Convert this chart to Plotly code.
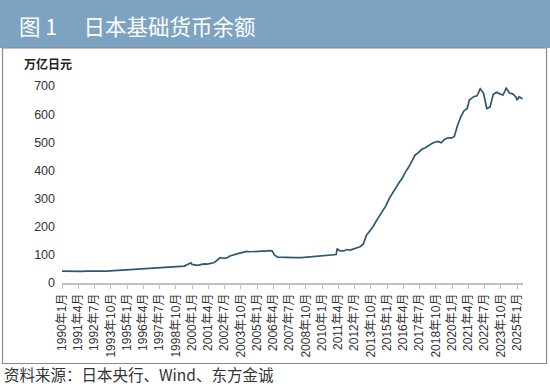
import plotly.graph_objects as go

# ---- data (万亿日元) ----
dates = [
    "1990-01", "1990-06", "1991-01", "1991-06", "1992-01", "1992-06", "1993-01", "1993-06",
    "1994-01", "1994-06", "1995-01", "1995-06", "1996-01", "1996-06", "1997-01", "1997-06",
    "1998-01", "1998-06", "1999-01", "1999-06", "1999-12", "2000-01", "2000-06", "2000-12",
    "2001-03", "2001-06", "2001-09", "2001-12", "2002-03", "2002-06", "2002-09", "2002-12",
    "2003-03", "2003-06", "2003-09", "2003-12", "2004-03", "2004-06", "2004-09", "2004-12",
    "2005-03", "2005-06", "2005-09", "2005-12", "2006-03", "2006-05", "2006-08", "2006-12",
    "2007-06", "2007-12", "2008-06", "2008-12", "2009-06", "2009-12", "2010-06", "2010-12",
    "2011-02", "2011-03", "2011-05", "2011-09", "2011-12", "2012-03", "2012-06", "2012-09",
    "2012-12", "2013-03", "2013-06", "2013-09", "2013-12", "2014-03", "2014-06", "2014-09",
    "2014-12", "2015-03", "2015-06", "2015-09", "2015-12", "2016-03", "2016-06", "2016-09",
    "2016-12", "2017-03", "2017-06", "2017-09", "2017-12", "2018-03", "2018-06", "2018-09",
    "2018-12", "2019-03", "2019-06", "2019-09", "2019-12", "2020-03", "2020-06", "2020-09",
    "2020-12", "2021-03", "2021-05", "2021-09", "2021-12", "2022-03", "2022-06", "2022-09",
    "2022-12", "2023-03", "2023-06", "2023-09", "2023-12", "2024-03", "2024-06", "2024-09",
    "2024-12", "2025-01", "2025-03", "2025-06",
]
values = [
    42, 41, 42, 41, 42, 41, 42, 42,
    44, 44, 46, 47, 50, 51, 53, 54,
    57, 57, 60, 60, 72, 66, 63, 68,
    67, 70, 72, 80, 90, 88, 89, 96,
    100, 104, 106, 109, 112, 111, 112, 113,
    114, 113, 113, 115, 114, 100, 92, 91,
    90, 90, 90, 92, 95, 97, 98, 100,
    101, 122, 115, 114, 119, 117, 121, 124,
    129, 138, 170, 185, 200, 220, 240, 258,
    275, 300, 320, 338, 356, 372, 395, 412,
    432, 455, 463, 475, 480, 488, 495, 500,
    503, 498, 510, 516, 515, 520, 560, 590,
    612, 620, 650, 662, 665, 690, 675, 620,
    625, 670, 678, 672, 668, 692, 675, 672,
    660, 650, 662, 654,
]

tick_dates = [
    "1990-01", "1991-04", "1992-07", "1993-10", "1995-01", "1996-04", "1997-07", "1998-10",
    "2000-01", "2001-04", "2002-07", "2003-10", "2005-01", "2006-04", "2007-07", "2008-10",
    "2010-01", "2011-04", "2012-07", "2013-10", "2015-01", "2016-04", "2017-07", "2018-10",
    "2020-01", "2021-04", "2022-07", "2023-10", "2025-01",
]
tick_labels = [f"{d[:4]}年{int(d[5:])}月" for d in tick_dates]

y_ticks = [0, 100, 200, 300, 400, 500, 600, 700]

title_text = "图 1　 日本基础货币余额"
unit_text = "万亿日元"
source_text = "资料来源：日本央行、Wind、东方金诚"

FONT = "Liberation Sans, Arial, Noto Sans CJK SC, sans-serif"
CJK = "Noto Sans CJK SC, sans-serif"

W, H = 550, 384
L, R, T, B = 62, 27, 86, 101
pw, ph = W - L - R, H - T - B


def px(x):
    return (x - L) / pw


def py(y):
    return (H - B - y) / ph


fig = go.Figure()
fig.add_trace(go.Scatter(
    x=dates, y=values, mode="lines",
    line=dict(color="#2c5870", width=1.7),
    hoverinfo="x+y", showlegend=False,
))

shapes = [
    # title bar
    dict(type="rect", xref="paper", yref="paper", x0=px(0), x1=px(W), y0=py(48), y1=py(0),
         fillcolor="#7ca3c1", line=dict(width=0), layer="below"),
    # frame
    dict(type="rect", xref="paper", yref="paper", x0=px(2.5), x1=px(546.5), y0=py(363.5), y1=py(48),
         fillcolor="rgba(0,0,0,0)", line=dict(color="#8a8a8a", width=1.2), layer="below"),
]

annotations = [
    dict(text=title_text, xref="paper", yref="paper", x=px(17), y=py(25), xanchor="left",
         yanchor="middle", showarrow=False, font=dict(family=CJK, size=21.5, color="white")),
    dict(text="<b>" + unit_text + "</b>", xref="paper", yref="paper", x=px(22), y=py(63),
         xanchor="left", yanchor="middle", showarrow=False,
         font=dict(family=CJK, size=12, color="#222222")),
    dict(text=source_text, xref="paper", yref="paper", x=px(2), y=py(373.5), xanchor="left",
         yanchor="middle", showarrow=False, font=dict(family=CJK, size=15.5, color="#333333")),
]

fig.update_layout(
    width=W, height=H,
    margin=dict(l=L, r=R, t=T, b=B, pad=0),
    paper_bgcolor="white", plot_bgcolor="white",
    font=dict(family=FONT, size=12, color="#333333"),
    shapes=shapes, annotations=annotations,
    xaxis=dict(
        type="date", range=["1990-01-01", "2025-06-15"],
        tickmode="array", tickvals=[d + "-01" for d in tick_dates], ticktext=tick_labels,
        tickangle=-90, tickfont=dict(family=FONT, size=12, color="#333333"),
        showgrid=False, zeroline=False, showline=True, linecolor="#bfbfbf", linewidth=1.5,
        ticks="outside", ticklen=4, tickcolor="#bfbfbf", tickwidth=1,
    ),
    yaxis=dict(
        range=[0, 700], tickmode="array", tickvals=y_ticks,
        tickfont=dict(family=FONT, size=12.5, color="#333333"),
        showgrid=False, zeroline=False, showline=False, ticks="", ticklabelstandoff=6,
    ),
)

fig.write_html("out.html")
